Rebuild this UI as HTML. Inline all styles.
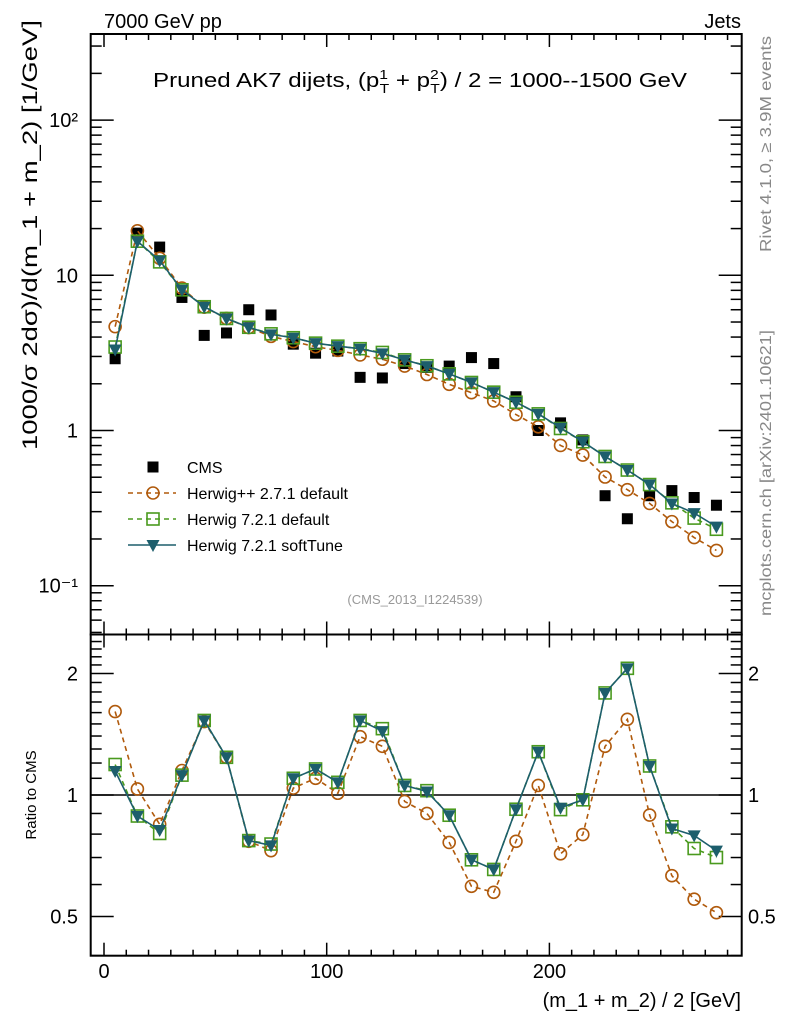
<!DOCTYPE html>
<html><head><meta charset="utf-8"><style>
html,body{margin:0;padding:0;background:#fff;}
svg{display:block;font-family:"Liberation Sans",sans-serif;}
</style></head><body>
<svg id="chart" width="786" height="1024" viewBox="0 0 786 1024" xmlns="http://www.w3.org/2000/svg">
<text x="104" y="28" font-size="20">7000 GeV pp</text>
<text x="741" y="28" font-size="20" text-anchor="end">Jets</text>
<text x="153" y="87" font-size="20" textLength="534" lengthAdjust="spacingAndGlyphs">Pruned AK7 dijets, (p<tspan font-size="13" dy="-8">1</tspan><tspan font-size="13" dx="-7" dy="14">T</tspan><tspan dy="-6"> + p</tspan><tspan font-size="13" dy="-8">2</tspan><tspan font-size="13" dx="-7" dy="14">T</tspan><tspan dy="-6">) / 2 = 1000--1500 GeV</tspan></text>
<text transform="translate(37,235) rotate(-90)" font-size="21" text-anchor="middle" textLength="430" lengthAdjust="spacingAndGlyphs">1000/σ   2dσ)/d(m_1 + m_2) [1/GeV]</text>
<text transform="translate(36,795) rotate(-90)" font-size="15" text-anchor="middle">Ratio to CMS</text>
<text transform="translate(771,144) rotate(-90)" font-size="16" fill="#888" text-anchor="middle" textLength="216" lengthAdjust="spacingAndGlyphs">Rivet 4.1.0, ≥ 3.9M events</text>
<text transform="translate(771,473) rotate(-90)" font-size="16" fill="#888" text-anchor="middle" textLength="286" lengthAdjust="spacingAndGlyphs">mcplots.cern.ch [arXiv:2401.10621]</text>
<text x="415" y="604" font-size="13" fill="#999" text-anchor="middle">(CMS_2013_I1224539)</text>
<text x="741" y="1007" font-size="20" text-anchor="end">(m_1 + m_2) / 2 [GeV]</text>
<g id="marks"></g>
</svg>
<script>
const xCenters = [5,15,25,35,45,55,65,75,85,95,105,115,125,135,145,155,165,175,185,195,205,215,225,235,245,255,265,275];
const cmsValues = [2.9,18.7,15.2,7.2,4.1,4.25,6.0,5.55,3.6,3.15,3.25,2.2,2.18,2.7,2.55,2.6,2.95,2.7,1.65,1.0,1.12,0.87,0.38,0.27,0.38,0.41,0.37,0.33];
const ratioHerwigPP = [1.61,1.035,0.846,1.15,1.52,1.24,0.768,0.728,1.04,1.10,1.01,1.395,1.32,0.964,0.90,0.763,0.594,0.574,0.768,1.056,0.715,0.798,1.32,1.54,0.892,0.631,0.552,0.511];
const ratioHerwig7 = [1.19,0.887,0.803,1.12,1.53,1.24,0.771,0.756,1.10,1.16,1.075,1.53,1.46,1.056,1.025,0.891,0.691,0.654,0.922,1.28,0.92,0.973,1.79,2.06,1.18,0.834,0.737,0.70];
const ratioSoftTune = [1.147,0.887,0.819,1.12,1.53,1.24,0.771,0.75,1.10,1.16,1.075,1.53,1.44,1.056,1.02,0.891,0.691,0.654,0.922,1.28,0.93,0.973,1.79,2.06,1.18,0.826,0.794,0.728];
const xTicks = [0,100,200];
const mainTickLabels = ["10\u207B\u00B9","1","10","10\u00B2"];
const ratioTickValues = [0.5,1,2];

const NS="http://www.w3.org/2000/svg";
const g=document.getElementById('marks');
const L=90.7,R=741.7,T=34,M=634.5,B=955.7;
const X=v=>104+v*2.227;
const YM=v=>430.5-Math.log10(v)*155.2;
const YR=r=>795-Math.log2(r)*121.5;
function el(t,a,p){const e=document.createElementNS(NS,t);for(const k in a)e.setAttribute(k,a[k]);(p||g).appendChild(e);return e;}
function ln(x1,y1,x2,y2,s,w,d){return el('line',{x1,y1,x2,y2,stroke:s||'#000','stroke-width':w||1,'stroke-dasharray':d||'none'});}

const defs=el('defs',{});
const c1=el('clipPath',{id:'cm'},defs);el('rect',{x:L,y:T,width:R-L,height:M-T},c1);
const c2=el('clipPath',{id:'cr'},defs);el('rect',{x:L,y:M,width:R-L,height:B-M},c2);

const f1=el('rect',{x:L,y:T,width:R-L,height:M-T,fill:'none',stroke:'#000','stroke-width':2});


const f2=el('rect',{x:L,y:M,width:R-L,height:B-M,fill:'none',stroke:'#000','stroke-width':2});



for(let v=0;v<=280;v+=10){
  const major=v%100===0, len=major?13:6, x=X(v);
  ln(x,T,x,T+len,'#000',1.5);ln(x,M,x,M-len,'#000',1.5);
  ln(x,M,x,M+len,'#000',1.5);ln(x,B,x,B-len,'#000',1.5);
}
xTicks.forEach(v=>{
  const t=el('text',{x:X(v),y:978,'font-size':20,'text-anchor':'middle'});t.textContent=String(v);
  
  
});
for(let e=-2;e<=2;e++){for(let k=1;k<=9;k++){
  const v=k*Math.pow(10,e),y=YM(v);if(y<T||y>M)continue;
  const len=k===1?23:11;ln(L,y,L+len,y,'#000',1.5);ln(R,y,R-len,y,'#000',1.5);
}}
[0.1,1,10,100].forEach((v,i)=>{
  const t=el('text',{x:78,y:YM(v)+7,'font-size':20,'text-anchor':'end'});t.textContent=mainTickLabels[i];
  
  
});
[0.4,0.5,0.6,0.7,0.8,0.9,1,1.1,1.2,1.3,1.4,1.5,1.6,1.7,1.8,1.9,2,2.1,2.2,2.3,2.4,2.5].forEach(v=>{
  const y=YR(v);if(y<M||y>B)return;const major=ratioTickValues.includes(v);const len=major?23:11;
  ln(L,y,L+len,y,'#000',1.5);ln(R,y,R-len,y,'#000',1.5);
});
ratioTickValues.forEach(v=>{
  const t=el('text',{x:78,y:YR(v)+7,'font-size':20,'text-anchor':'end'});t.textContent=String(v);
  
  
  const t2=el('text',{x:748,y:YR(v)+7,'font-size':20});t2.textContent=String(v);
  
  
});
ln(L,YR(1),R,YR(1),'#000',1.5);

const COL={pp:'#b05a0c',h7:'#4a9a1e',st:'#1d5e6c'};
function marker(type,cx,cy,col,p){
  let e;
  if(type==='circle')e=el('circle',{cx,cy,r:6,fill:'none',stroke:col,'stroke-width':1.6},p);
  else if(type==='osq')e=el('rect',{x:cx-6,y:cy-6,width:12,height:12,fill:'none',stroke:col,'stroke-width':1.6},p);
  else if(type==='tri')e=el('path',{d:`M${cx-6.5},${cy-5} L${cx+6.5},${cy-5} L${cx},${cy+7} Z`,fill:col},p);
  else e=el('rect',{x:cx-5.5,y:cy-5.5,width:11,height:11,fill:'#000'},p);
  return e;
}
function series(name,type,col,dash,xs,ys,clip){
  const grp=el('g',{'clip-path':`url(#${clip})`});
  
  
  if(type!=='fsq'){
    el('polyline',{points:xs.map((x,i)=>x+','+ys[i]).join(' '),fill:'none',stroke:col,'stroke-width':1.6,'stroke-dasharray':dash},grp);
  }
  xs.forEach((x,i)=>{const m=marker(type,x,ys[i],col,grp);
    
    });
}
const xs=xCenters.map(X);
series('cms-data','fsq','#000','',xs,cmsValues.map(YM),'cm');
series('herwigpp-main','circle',COL.pp,'5,4',xs,cmsValues.map((c,i)=>YM(c*ratioHerwigPP[i])),'cm');
series('herwig7-main','osq',COL.h7,'5,4',xs,cmsValues.map((c,i)=>YM(c*ratioHerwig7[i])),'cm');
series('softtune-main','tri',COL.st,'none',xs,cmsValues.map((c,i)=>YM(c*ratioSoftTune[i])),'cm');
series('herwigpp-ratio','circle',COL.pp,'5,4',xs,ratioHerwigPP.map(YR),'cr');
series('herwig7-ratio','osq',COL.h7,'5,4',xs,ratioHerwig7.map(YR),'cr');
series('softtune-ratio','tri',COL.st,'none',xs,ratioSoftTune.map(YR),'cr');

const leg=el('g',{});


const items=[['CMS','fsq','#000','none'],['Herwig++ 2.7.1 default','circle',COL.pp,'5,4'],['Herwig 7.2.1 default','osq',COL.h7,'5,4'],['Herwig 7.2.1 softTune','tri',COL.st,'none']];
items.forEach((it,i)=>{
  const y=467+i*26;
  const eg=el('g',{},leg);
  
  
  if(it[1]!=='fsq')el('line',{x1:128,y1:y,x2:176,y2:y,stroke:it[2],'stroke-width':1.6,'stroke-dasharray':it[3]},eg);
  marker(it[1],153,y,it[2],eg);
  const t=el('text',{x:187,y:y+6,'font-size':16},eg);t.textContent=it[0];
});
</script>
</body></html>
